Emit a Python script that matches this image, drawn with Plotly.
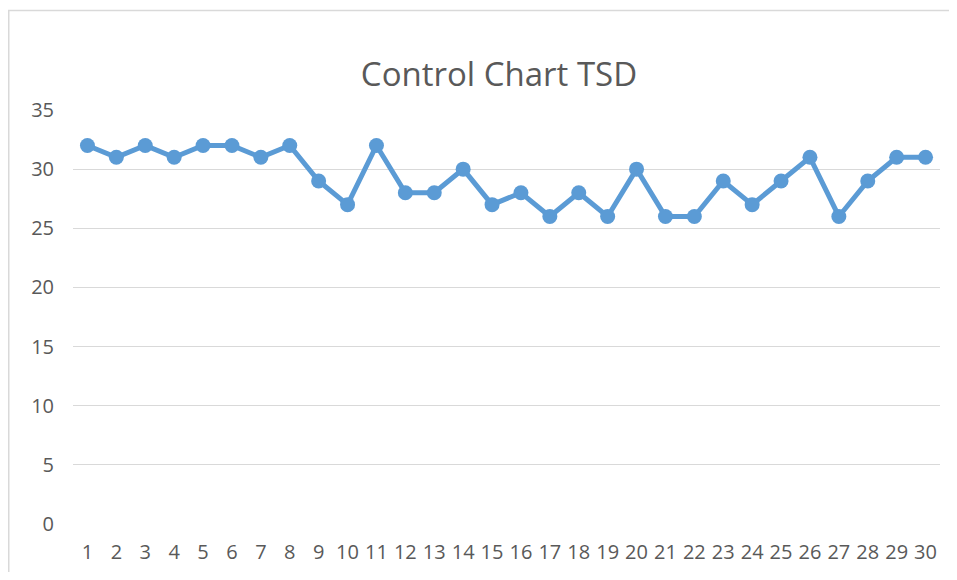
import plotly.graph_objects as go

samples = list(range(1, 31))
tsd = [32, 31, 32, 31, 32, 32, 31, 32, 29, 27, 32, 28, 28, 30, 27, 28, 26, 28, 26, 30,
       26, 26, 29, 27, 29, 31, 26, 29, 31, 31]
y_ticks = [0, 5, 10, 15, 20, 25, 30, 35]
title_text = "Control Chart TSD"

# page body has an 8px default margin, so the figure is drawn offset by 8px;
# keep it small enough not to overflow the window
OFF = 8
W, H = 957 - 2 * OFF, 580 - 2 * OFF
L, T = 73 - OFF, 110 - OFF
R = W - (940 - OFF)
B = H - (524 - OFF)
pw, ph = W - L - R, H - T - B

FONT = "Open Sans, Roboto, sans-serif"
GRAY = "#595959"

fig = go.Figure()
fig.add_trace(go.Scatter(
    x=samples, y=tsd, mode="lines+markers",
    line=dict(color="#5B9BD5", width=5),
    marker=dict(color="#5B9BD5", size=15),
    showlegend=False, cliponaxis=False,
))

# outer chart border: only left and top edges are visible
bx0 = (8 - OFF + 0.75 - L) / pw
by1 = (H - B - (10.5 - OFF)) / ph
fig.add_shape(type="path", xref="paper", yref="paper",
              path=f"M {bx0},-0.5 L {bx0},{by1} L 1.5,{by1}",
              line=dict(color="#D9D9D9", width=1.5), layer="below")

fig.update_layout(
    width=W, height=H,
    margin=dict(l=L, r=R, t=T, b=B, autoexpand=False),
    paper_bgcolor="white", plot_bgcolor="white",
    title=dict(text=title_text, x=(499 - OFF) / W, xanchor="center",
               y=1 - (74 - OFF) / H, yanchor="middle", yref="container",
               font=dict(family=FONT, size=33, color=GRAY)),
    font=dict(family=FONT, color=GRAY),
    xaxis=dict(range=[0.5, 30.5], tickmode="array", tickvals=samples,
               ticktext=[str(s) for s in samples], automargin=False,
               showgrid=False, zeroline=False, showline=False,
               ticks="", ticklabelstandoff=14,
               tickfont=dict(family=FONT, size=20, color=GRAY)),
    yaxis=dict(range=[0, 35], tickmode="array", tickvals=y_ticks,
               automargin=False,
               showgrid=True, gridcolor="#D9D9D9", gridwidth=1.3,
               zeroline=False, showline=False, ticks="",
               ticklabelstandoff=18,
               tickfont=dict(family=FONT, size=20, color=GRAY)),
)

fig.write_html("out.html")
